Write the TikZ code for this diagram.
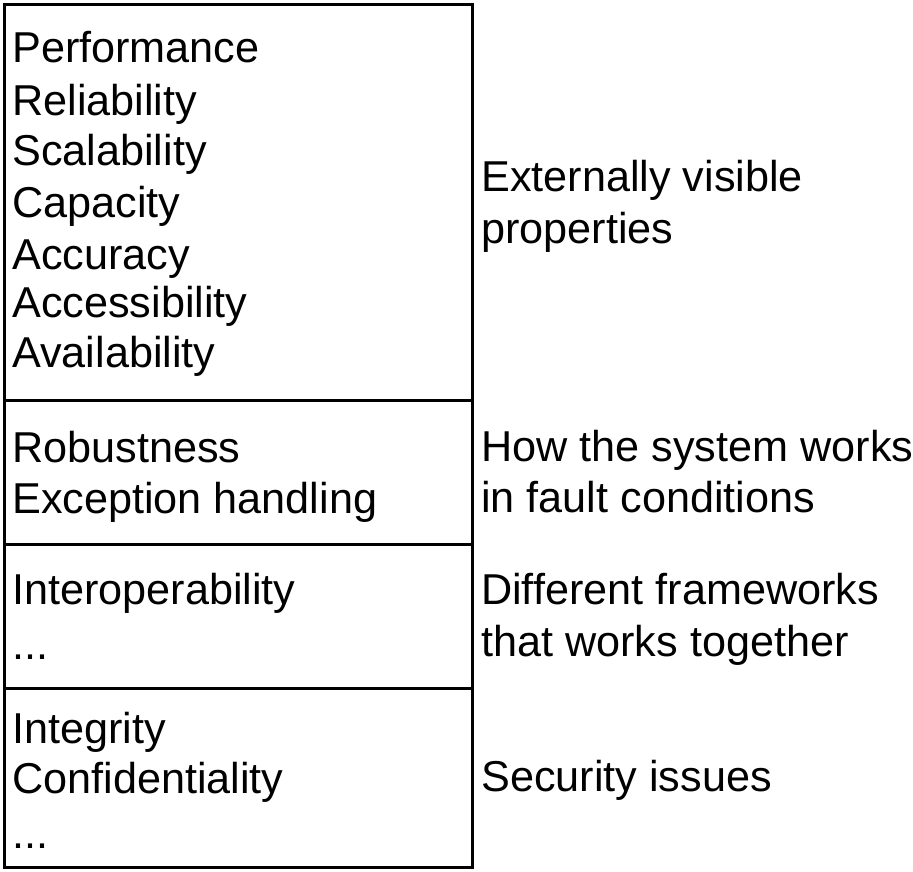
\documentclass[tikz,border=0pt]{standalone}
\usepackage{fontspec}
\setmainfont{Liberation Sans}
\begin{document}
\begin{tikzpicture}[x=1pt,y=-1pt,
  line/.style={draw=black,line width=3pt},
  lbl/.style={anchor=base west,inner sep=0pt,font=\fontsize{43.2}{52}\selectfont}]
\useasboundingbox (0,0) rectangle (913,871);
% outer frame and section dividers
\draw[line] (4,4) rectangle (472,867);
\draw[line] (4,400) -- (472,400);
\draw[line] (4,544) -- (472,544);
\draw[line] (4,688) -- (472,688);
% left column
\node[lbl] (p1) at (12,62) {Performance};
\node[lbl] (p2) at (12,115) {Reliability};
\node[lbl] (p3) at (12,165) {Scalability};
\node[lbl] (p4) at (12,217) {Capacity};
\node[lbl] (p5) at (12,269) {Accuracy};
\node[lbl] (p6) at (12,317) {Accessibility};
\node[lbl] (p7) at (12,367) {Availability};
\node[lbl] (r1) at (12,462) {Robustness};
\node[lbl] (r2) at (12,513) {Exception handling};
\node[lbl] (i1) at (12,604) {Interoperability};
\node[lbl] (i2) at (12,659) {...};
\node[lbl] (s1) at (12,743) {Integrity};
\node[lbl] (s2) at (12,793) {Confidentiality};
\node[lbl] (s3) at (12,848) {...};
% right column
\node[lbl] (d1a) at (481,191) {Externally visible};
\node[lbl] (d1b) at (481,243) {properties};
\node[lbl] (d2a) at (481,461) {How the system works};
\node[lbl] (d2b) at (481,512) {in fault conditions};
\node[lbl] (d3a) at (481,604) {Different frameworks};
\node[lbl] (d3b) at (481,656) {that works together};
\node[lbl] (d4) at (481,791) {Security issues};
\end{tikzpicture}
\end{document}
